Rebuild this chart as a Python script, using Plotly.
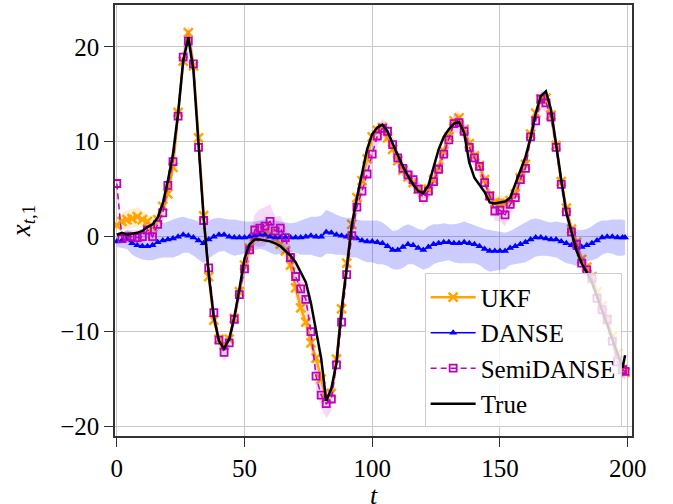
import plotly.graph_objects as go

# time steps (every 2 steps, plus final step)
t = list(range(0, 200, 2)) + [199]

true_vals = [
    0.2, 0.4, 0.2, 0.3, 0.4, 0.6, 1.0, 1.3, 2.0, 3.5,
    5.9, 8.7, 13.0, 18.5, 21.0, 17.5, 10.2, 2.0, -4.0, -8.5,
    -11.0, -11.8, -10.8, -8.5, -5.5, -2.3, -0.8, -0.3, -0.3, -0.4,
    -0.5, -0.7, -1.0, -1.5, -2.0, -2.7, -3.7, -4.8, -7.0, -9.8,
    -12.8, -17.3, -16.0, -13.3, -7.7, -3.3, 1.2, 4.1, 6.7, 9.2,
    10.8, 11.5, 11.8, 11.1, 9.8, 8.5, 7.4, 6.4, 5.5, 4.8,
    4.6, 5.4, 7.3, 9.2, 10.5, 11.3, 11.9, 12.1, 10.9, 7.8,
    6.2, 5.5, 4.7, 3.6, 3.5, 3.6, 3.7, 4.1, 5.5, 7.0,
    8.4, 10.4, 13.0, 14.8, 15.3, 13.4, 9.5, 6.0, 2.5, 0.4,
    -1.5, -2.8, -3.8, -4.8, -6.3, -7.8, -9.3, -10.8, -12.3, -13.8,
    -12.5,
]

ukf_vals = [
    1.2, 1.6, 1.8, 1.9, 2.1, 1.8, 1.6, 1.0, 1.8, 3.2,
    4.5, 7.3, 13.1, 18.5, 21.5, 18.0, 10.4, 2.2, -4.2, -8.8,
    -10.8, -11.4, -10.8, -8.6, -5.8, -3.0, -1.2, 0.0, 0.4, 0.6,
    0.3, -0.2, -0.8, -1.5, -3.0, -5.4, -7.5, -9.0, -11.2, -12.8,
    -15.0, -17.0, -16.5, -12.9, -7.6, -2.8, 1.3, 4.1, 5.9, 8.2,
    10.5, 11.2, 11.5, 10.4, 9.2, 8.0, 7.0, 6.3, 5.7, 5.0,
    4.6, 5.0, 6.0, 7.3, 9.0, 10.5, 12.2, 12.5, 11.3, 9.8,
    8.5, 7.5, 6.0, 4.3, 3.6, 3.5, 3.5, 3.8, 4.5, 6.2,
    7.6, 10.8, 13.0, 14.5, 14.6, 12.8, 9.6, 5.8, 3.0, 0.8,
    -0.6, -2.4, -3.2, -4.2, -5.8, -7.3, -8.8, -10.5, -12.3, -14.0,
    -14.3,
]
ukf_band = [
    0.5, 0.8, 1.0, 1.0, 1.0, 0.9, 0.8, 0.8, 0.8, 0.8,
    0.8, 0.8, 0.8, 0.8, 0.8, 0.7, 0.7, 0.7, 0.7, 0.7,
    0.7, 0.7, 0.7, 0.7, 0.7, 0.7, 0.7, 0.8, 0.8, 0.8,
    0.8, 0.8, 0.8, 0.9, 1.0, 1.1, 1.1, 1.0, 0.9, 0.8,
    0.8, 0.8, 0.8, 0.7, 0.7, 0.7, 0.7, 0.7, 0.7, 0.7,
    0.7, 0.7, 0.7, 0.7, 0.7, 0.7, 0.7, 0.7, 0.7, 0.7,
    0.7, 0.7, 0.7, 0.7, 0.7, 0.7, 0.8, 0.8, 0.7, 0.7,
    0.7, 0.7, 0.7, 0.7, 0.8, 0.8, 0.8, 0.8, 0.7, 0.7,
    0.7, 0.7, 0.7, 0.7, 0.7, 0.7, 0.7, 0.7, 0.7, 0.7,
    0.7, 0.7, 0.7, 0.7, 0.7, 0.7, 0.7, 0.7, 0.7, 0.7,
    0.7,
]

danse_vals = [
    -0.5, -0.4, -0.3, -0.7, -0.9, -1.0, -1.0, -0.9, -0.6, -0.4,
    -0.3, -0.2, 0.0, 0.2, 0.1, -0.1, -0.4, -0.7, -0.3, 0.0,
    0.2, 0.2, 0.0, -0.1, -0.1, -0.1, 0.0, 0.1, 0.2, 0.2,
    0.0, -0.1, -0.1, -0.1, -0.1, -0.1, -0.1, 0.0, 0.1, 0.0,
    0.0, 0.5, 0.4, 0.2, 0.1, 0.0, -0.1, -0.2, -0.4, -0.5,
    -0.5, -0.6, -0.7, -1.0, -1.4, -1.4, -1.1, -0.8, -0.9, -1.2,
    -1.4, -1.1, -0.8, -0.7, -0.6, -0.6, -0.7, -0.7, -0.6, -0.7,
    -0.8, -1.0, -1.3, -1.5, -1.5, -1.5, -1.5, -1.2, -1.0, -0.8,
    -0.6, -0.3, -0.1, -0.1, -0.2, -0.3, -0.3, -0.5, -0.7, -0.9,
    -1.2, -1.1, -0.9, -0.7, -0.4, -0.1, 0.0, 0.0, -0.1, -0.1,
    -0.1,
]
danse_band = [
    0.6, 0.8, 1.0, 1.2, 1.3, 1.4, 1.5, 1.6, 1.7, 1.8,
    1.9, 2.0, 2.0, 1.9, 1.8, 1.9, 2.0, 2.1, 2.0, 1.9,
    1.8, 1.7, 1.8, 1.9, 1.8, 1.7, 1.6, 1.5, 1.5, 1.6,
    1.7, 1.8, 1.7, 1.6, 1.5, 1.6, 1.8, 1.9, 2.0, 2.1,
    2.2, 2.3, 2.2, 2.1, 2.0, 2.0, 2.1, 2.0, 2.1, 2.2,
    2.2, 2.3, 2.2, 2.1, 2.0, 2.1, 2.2, 2.1, 2.0, 2.0,
    2.1, 2.2, 2.1, 2.0, 2.0, 1.9, 2.0, 2.1, 2.2, 2.1,
    2.0, 2.0, 2.1, 2.2, 2.1, 2.0, 1.9, 1.8, 1.9, 2.0,
    2.1, 2.1, 2.0, 1.9, 1.8, 1.8, 1.9, 2.0, 2.1, 2.0,
    1.9, 1.8, 1.7, 1.8, 1.9, 1.8, 1.7, 1.8, 1.9, 1.9,
    1.8,
]

semi_vals = [
    5.6, -0.2, 0.0, 0.0, -0.1, 0.0, 0.7, 0.0, 1.3, 2.5,
    5.4, 7.9, 12.7, 18.9, 20.6, 18.2, 9.4, 1.7, -3.3, -8.0,
    -10.9, -12.2, -11.2, -8.7, -6.1, -3.4, -1.4, 0.7, 0.9, 1.1,
    1.6, 0.6, 0.9, -0.1, -2.2, -4.2, -5.5, -6.6, -10.0, -14.7,
    -16.7, -17.6, -17.1, -13.5, -9.0, -4.0, 0.1, 3.1, 4.8, 6.6,
    8.7, 10.6, 11.4, 11.1, 9.7, 8.3, 7.2, 6.5, 6.0, 5.0,
    4.1, 4.8, 5.8, 7.1, 8.7, 10.2, 11.9, 12.0, 11.1, 9.4,
    8.3, 7.4, 5.7, 4.3, 2.7, 2.8, 2.3, 3.4, 4.1, 6.0,
    7.2, 10.5, 12.2, 14.5, 14.1, 12.6, 9.4, 5.5, 2.6, 0.5,
    -0.8, -2.8, -3.5, -4.4, -6.5, -7.7, -8.7, -11.0, -13.2, -14.0,
    -14.2,
]
semi_band = [
    0.5, 0.6, 0.7, 0.7, 0.8, 0.8, 0.9, 1.0, 1.0, 1.0,
    1.0, 1.0, 1.1, 1.3, 1.5, 1.3, 1.0, 0.9, 0.8, 0.8,
    0.9, 1.0, 0.9, 0.8, 0.8, 0.9, 1.2, 1.6, 2.0, 2.0,
    1.8, 1.5, 1.3, 1.2, 1.2, 1.3, 1.4, 1.4, 1.3, 1.3,
    1.4, 1.5, 1.3, 1.0, 0.8, 0.7, 0.7, 0.8, 0.9, 1.0,
    1.0, 1.0, 1.0, 0.9, 0.9, 0.9, 0.9, 0.9, 0.9, 0.9,
    0.9, 0.9, 0.9, 0.9, 0.9, 1.0, 1.0, 1.0, 1.0, 0.9,
    0.9, 0.9, 0.9, 0.9, 1.0, 1.2, 1.2, 1.0, 0.9, 0.9,
    0.9, 0.9, 1.0, 1.0, 1.0, 0.9, 0.9, 0.9, 0.9, 0.9,
    0.9, 0.9, 0.9, 0.9, 0.9, 0.9, 0.9, 0.9, 0.9, 0.9,
    0.9,
]

x_ticks = [0, 50, 100, 150, 200]
y_ticks = [-20, -10, 0, 10, 20]

for arr in (true_vals, ukf_vals, ukf_band, danse_vals, danse_band, semi_vals, semi_band):
    assert len(arr) == len(t), len(arr)

FONT = "Liberation Serif"
ORANGE = "#FFA500"
BLUE = "#0000FF"
MAG = "#BF00BF"


def band(x, y, w, color):
    hi = [a + b for a, b in zip(y, w)]
    lo = [a - b for a, b in zip(y, w)]
    return go.Scatter(x=list(x) + list(x)[::-1], y=hi + lo[::-1], fill="toself",
                      fillcolor=color, line=dict(width=0), mode="lines",
                      hoverinfo="skip", showlegend=False)


fig = go.Figure()
fig.add_trace(band(t, ukf_vals, ukf_band, "rgba(255,165,0,0.2)"))
fig.add_trace(go.Scatter(x=t, y=ukf_vals, name="UKF", mode="lines+markers",
                         line=dict(color=ORANGE, width=2.5),
                         marker=dict(symbol="x-thin", size=9,
                                     line=dict(color=ORANGE, width=2.5))))
fig.add_trace(band(t, danse_vals, danse_band, "rgba(0,0,255,0.2)"))
fig.add_trace(go.Scatter(x=t, y=danse_vals, name="DANSE", mode="lines+markers",
                         line=dict(color=BLUE, width=1.5),
                         marker=dict(symbol="triangle-up", size=7, color=BLUE)))
fig.add_trace(band(t, semi_vals, semi_band, "rgba(191,0,191,0.15)"))
fig.add_trace(go.Scatter(x=t, y=semi_vals, name="SemiDANSE", mode="lines+markers",
                         line=dict(color=MAG, width=1.5, dash="6px,4px"),
                         marker=dict(symbol="square-open", size=7, color=MAG,
                                     line=dict(color=MAG, width=1.8))))
fig.add_trace(go.Scatter(x=t, y=true_vals, name="True", mode="lines",
                         line=dict(color="black", width=2.5)))

axis_common = dict(
    showgrid=True, gridcolor="#c8c8c8", gridwidth=1.3, zeroline=False,
    showline=True, linecolor="#333333", linewidth=1.5, mirror=True,
    ticks="outside", ticklen=9, tickwidth=1.3, tickcolor="#333333",
    tickfont=dict(family=FONT, size=25, color="black"),
)

fig.update_layout(
    template="none",
    width=673, height=504,
    margin=dict(l=115, r=41, t=5, b=68),
    plot_bgcolor="white", paper_bgcolor="white",
    font=dict(family=FONT, size=25, color="black"),
    xaxis=dict(range=[-0.7, 201.7], tickvals=x_ticks, **axis_common),
    yaxis=dict(range=[-21.0, 24.4], tickvals=y_ticks,
               title=dict(text="<i>x</i><sub><i>t</i>,1</sub>", font=dict(family=FONT, size=27),
                          standoff=22),
               **axis_common),
    legend=dict(x=0.98, y=0.02, xanchor="right", yanchor="bottom", itemwidth=45,
                bgcolor="rgba(255,255,255,0.8)", bordercolor="#cccccc", borderwidth=1,
                font=dict(family=FONT, size=25, color="black"), tracegroupgap=0),
)
# x-axis title placed as a paper annotation just below the tick labels
fig.add_annotation(text="<i>t</i>", xref="paper", yref="paper", x=0.5, y=-0.137,
                   xanchor="center", yanchor="middle", showarrow=False,
                   font=dict(family=FONT, size=26, color="black"))

fig.write_html("out.html")
